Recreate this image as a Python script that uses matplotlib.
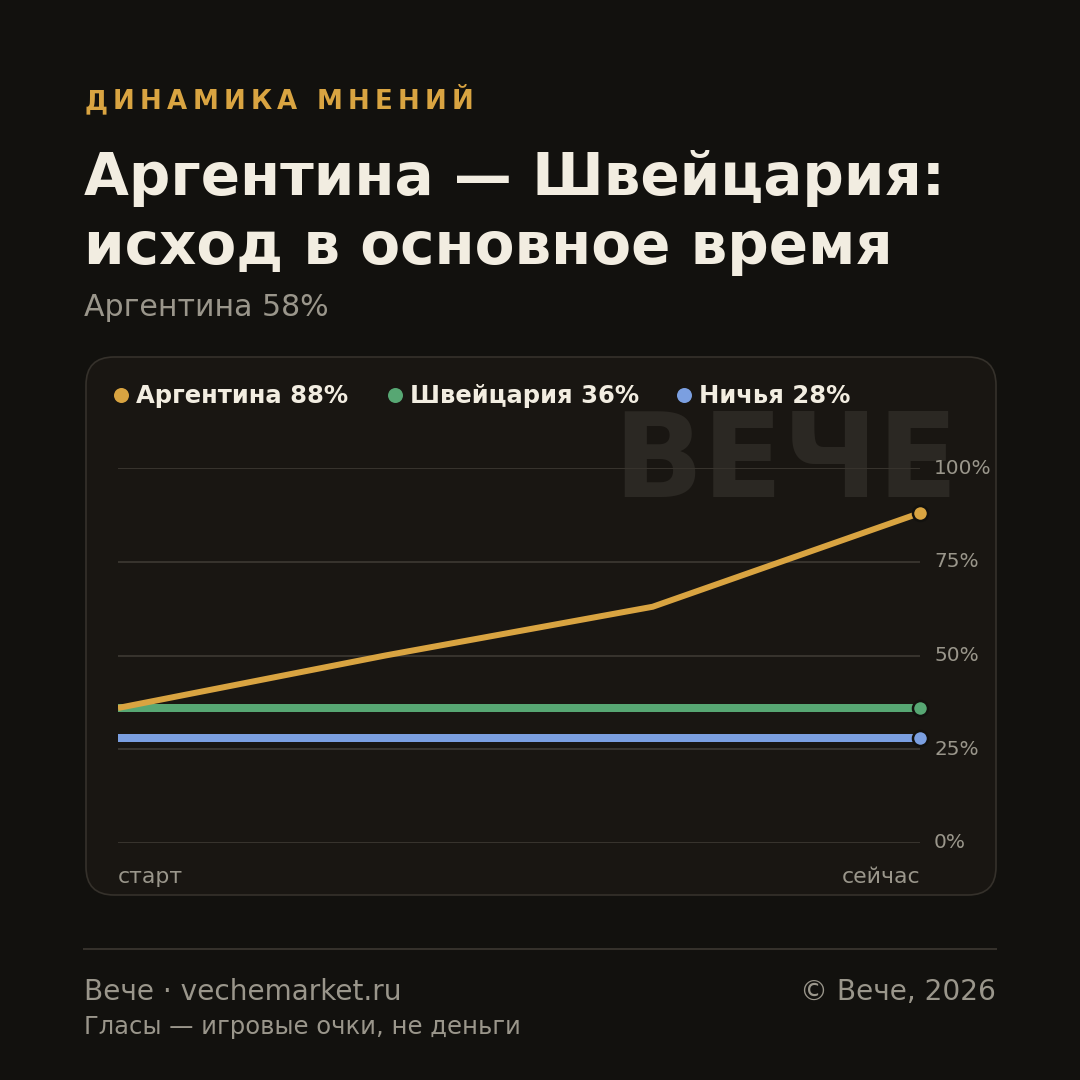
import matplotlib
matplotlib.use("Agg")
import matplotlib.pyplot as plt
from matplotlib.patches import FancyBboxPatch
from matplotlib.lines import Line2D

plt.rcParams['font.family'] = ['DejaVu Sans']

# ---- data ----
x_labels = ["старт", "сейчас"]
points = [0, 1, 2, 3]
argentina = [36, 50, 63, 88]
switzerland = [36, 36, 36, 36]
draw = [28, 28, 28, 28]
series_names = ["Аргентина 88%", "Швейцария 36%", "Ничья 28%"]
yticks = [0, 25, 50, 75, 100]
ytick_labels = ["0%", "25%", "50%", "75%", "100%"]

BG = "#12110e"
CARD = "#191612"
CARD_EDGE = "#35312b"
ORANGE = "#d9a441"
GREEN = "#57a773"
BLUE = "#7b9fe0"
WHITE = "#f2ede1"
GRAY = "#9a968b"
GRID = "#37332d"
WM = "#2b2823"

W = H = 1080
DPI = 100
fig = plt.figure(figsize=(W / DPI, H / DPI), dpi=DPI, facecolor=BG)


def fx(px):
    return px / W


def fy(py):
    return 1 - py / H


def pt(px):
    return px * 72 / DPI


# card
card = FancyBboxPatch((fx(86), fy(895)), fx(996) - fx(86), fy(357) - fy(895),
                      boxstyle="round,pad=0,rounding_size=%f" % (28 / W),
                      transform=fig.transFigure, facecolor=CARD,
                      edgecolor=CARD_EDGE, linewidth=1.2, zorder=-2)
fig.patches.append(card)

# header kicker with letter spacing
renderer = fig.canvas.get_renderer()
kick = "ДИНАМИКА МНЕНИЙ"
xpos = 84
for ch in kick:
    t = fig.text(fx(xpos), fy(109), ch, color=ORANGE, fontsize=pt(26),
                 fontweight="bold", va="baseline", ha="left")
    if ch == " ":
        w = 8
    else:
        w = t.get_window_extent(renderer).width
    xpos += w + 5.4

fig.text(fx(84), fy(195), "Аргентина — Швейцария:", color=WHITE,
         fontsize=pt(58), fontweight="bold", va="baseline")
fig.text(fx(84), fy(264), "исход в основное время", color=WHITE,
         fontsize=pt(58), fontweight="bold", va="baseline")
fig.text(fx(84), fy(316), "Аргентина 58%", color=GRAY,
         fontsize=pt(30), va="baseline")

# watermark (behind the grid)
fig.text(fx(958), fy(497), "ВЕЧЕ", color=WM, fontsize=pt(117.5),
         fontweight="bold", va="baseline", ha="right", zorder=-1)

# legend
colors = [ORANGE, GREEN, BLUE]
leg_x = [121, 395, 684]
for name, c, lx in zip(series_names, colors, leg_x):
    fig.lines.append(Line2D([fx(lx)], [fy(395)], transform=fig.transFigure,
                            marker="o", markersize=pt(15), color=c,
                            markeredgewidth=0, linestyle="none"))
    fig.text(fx(lx + 15), fy(403), name, color=WHITE, fontsize=pt(24.2),
             fontweight="bold", va="baseline")

# plot axes
ax = fig.add_axes([fx(118), fy(843), fx(920) - fx(118), fy(468) - fy(843)])
ax.set_zorder(1)
ax.patch.set_visible(False)
ax.set_xlim(points[0], points[-1])
ax.set_ylim(0, 100)
for s in ax.spines.values():
    s.set_visible(False)
ax.set_xticks([])
ax.set_yticks([])
for yv, lab in zip(yticks, ytick_labels):
    ax.axhline(yv, color=GRID, linewidth=pt(2), zorder=1)
    ax.annotate(lab, xy=(1, yv), xycoords=("axes fraction", "data"),
                xytext=(pt(14), 0), textcoords="offset points",
                color=GRAY, fontsize=pt(20), va="center", ha="left")

ax.plot(points, draw, color=BLUE, linewidth=pt(8), solid_capstyle="butt", zorder=3)
ax.plot(points, switzerland, color=GREEN, linewidth=pt(8), solid_capstyle="butt", zorder=3)
ax.plot(points, argentina, color=ORANGE, linewidth=pt(6), solid_capstyle="butt",
        solid_joinstyle="miter", zorder=4)
for series, c in zip([argentina, switzerland, draw], colors):
    ax.plot([points[-1]], [series[-1]], marker="o", markersize=pt(15),
            color=c, markeredgecolor=BG, markeredgewidth=pt(2.5),
            clip_on=False, zorder=5)

fig.text(fx(118), fy(883), x_labels[0], color=GRAY, fontsize=pt(22), va="baseline", ha="left")
fig.text(fx(920), fy(883), x_labels[1], color=GRAY, fontsize=pt(22), va="baseline", ha="right")

# footer
fig.lines.append(Line2D([fx(84), fx(996)], [fy(949), fy(949)], transform=fig.transFigure,
                        color=CARD_EDGE, linewidth=pt(2)))
fig.text(fx(84), fy(1000), "Вече · vechemarket.ru", color=GRAY, fontsize=pt(28), va="baseline")
fig.text(fx(996), fy(1000), "© Вече, 2026", color=GRAY, fontsize=pt(28), va="baseline", ha="right")
fig.text(fx(84), fy(1034), "Гласы — игровые очки, не деньги", color=GRAY, fontsize=pt(24.3), va="baseline")

fig.savefig("out.png", dpi=DPI, facecolor=BG)
